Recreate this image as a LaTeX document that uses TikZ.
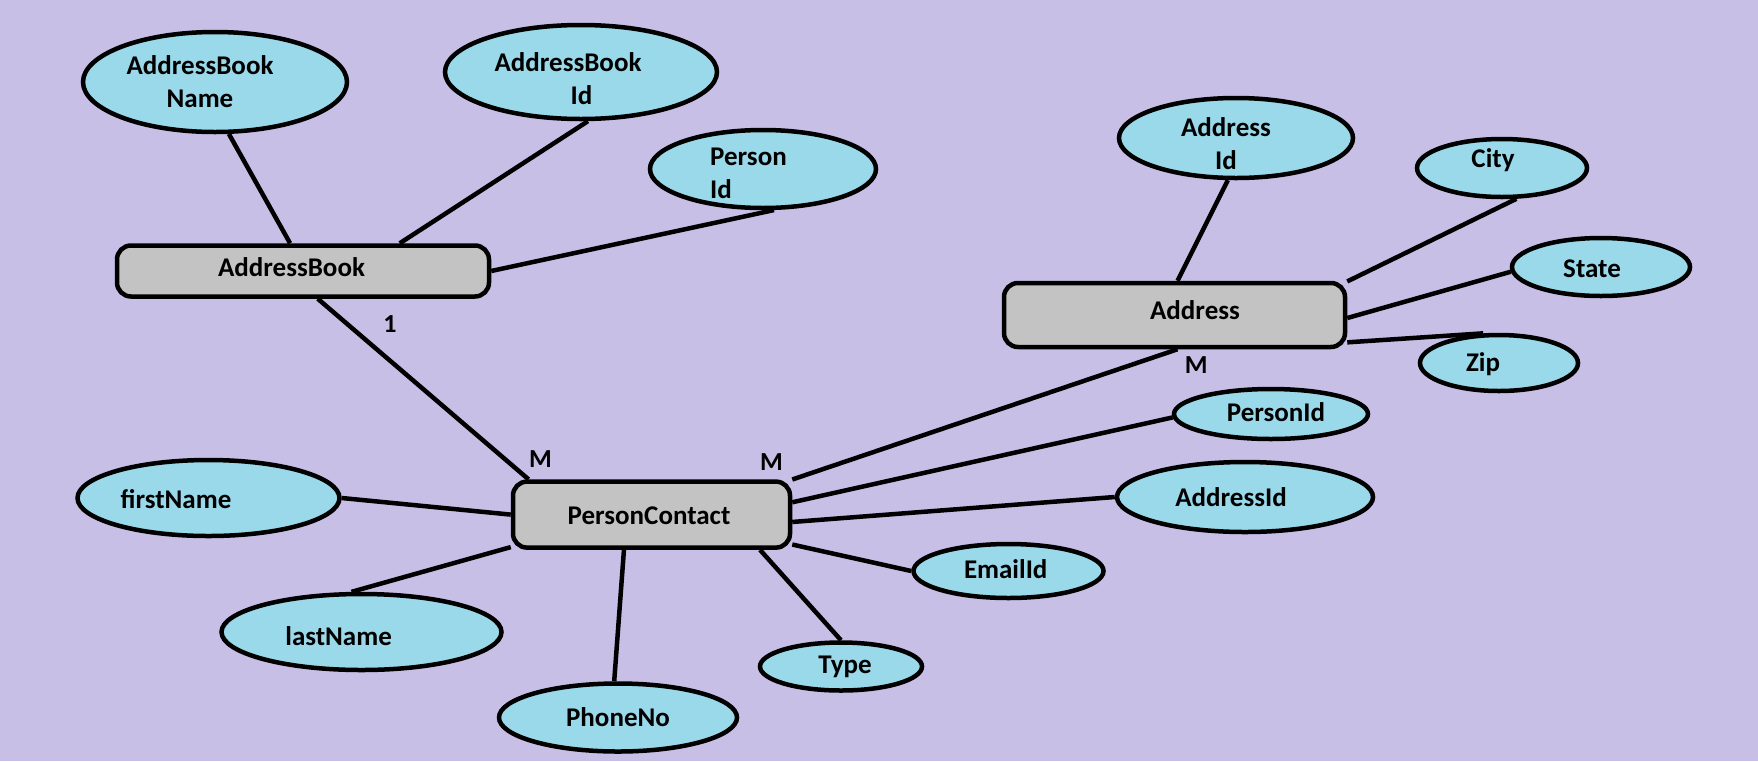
\documentclass[tikz,border=0pt]{standalone}
\usepackage{fontspec}
\setmainfont{Carlito}
\usetikzlibrary{shapes.geometric}
\definecolor{bgc}{RGB}{200,191,231}
\definecolor{attrc}{RGB}{153,217,234}
\definecolor{entc}{RGB}{195,195,195}
\tikzset{
 attrib/.style={ellipse, draw=black, line width=4.5pt, fill=attrc, inner sep=0pt},
 entity/.style={rectangle, rounded corners=14pt, draw=black, line width=4.5pt, fill=entc, inner sep=0pt},
 lbl/.style={font=\fontsize{27}{33}\selectfont\bfseries, inner sep=0pt, align=center},
 card/.style={font=\fontsize{26}{30}\selectfont\bfseries, inner sep=0pt},
 conn/.style={line width=4.5pt}
}
\begin{document}
\begin{tikzpicture}[x=1pt,y=-1pt]
\fill[bgc] (0,0) rectangle (1758,761);
\useasboundingbox (0,0) rectangle (1758,761);

% entities
\node[entity, minimum width=372pt, minimum height=51pt] (ab) at (303,271) {};
\node[entity, minimum width=341pt, minimum height=64pt] (ad) at (1174.5,315) {};
\node[entity, minimum width=277pt, minimum height=66pt] (pc) at (651.5,514.6) {};

% attributes
\node[attrib, minimum width=264pt, minimum height=100pt] (abn) at (215,82) {};
\node[attrib, minimum width=272pt, minimum height=94pt] (abi) at (581,72) {};
\node[attrib, minimum width=226pt, minimum height=78pt] (pid) at (763,169) {};
\node[attrib, minimum width=234pt, minimum height=80pt] (adi) at (1236,138) {};
\node[attrib, minimum width=170pt, minimum height=58pt] (city) at (1502,168) {};
\node[attrib, minimum width=178pt, minimum height=58pt] (state) at (1601,267) {};
\node[attrib, minimum width=158pt, minimum height=56pt] (zip) at (1499,363) {};
\node[attrib, minimum width=194pt, minimum height=50pt] (persid) at (1271,414) {};
\node[attrib, minimum width=256pt, minimum height=70pt] (addrid) at (1245,497) {};
\node[attrib, minimum width=190pt, minimum height=54pt] (email) at (1008.5,571) {};
\node[attrib, minimum width=162pt, minimum height=48pt] (type) at (841,666.5) {};
\node[attrib, minimum width=238pt, minimum height=68pt] (phone) at (618,717.5) {};
\node[attrib, minimum width=280pt, minimum height=76pt] (ln) at (361.5,632) {};
\node[attrib, minimum width=262pt, minimum height=76pt] (fn) at (208.5,498) {};

% connectors
\draw[conn] (abn.-75) -- (ab.115);
\draw[conn] (abi.-82) -- (ab.16.5);
\draw[conn] (pid.-75) -- (ab.east);
\draw[conn] (ab.-62) -- (pc.164);
\draw[conn] (adi.-101) -- (ad.85);
\draw[conn] (city.-65) -- (ad.11);
\draw[conn] (state.183) -- (ad.-1);
\draw[conn] (zip.118) -- (ad.-9);
\draw[conn] (ad.-85) -- (pc.14);
\draw[conn] (persid.182) -- (pc.5);
\draw[conn] (addrid.west) -- (pc.-3);
\draw[conn] (email.west) -- (pc.-12);
\draw[conn] (type.north) -- (pc.-18);
\draw[conn] (phone.96) -- (pc.-128);
\draw[conn] (ln.104) -- (pc.193);
\draw[conn] (fn.east) -- (pc.west);

% texts
\node[lbl] (t-ab) at (291.5,266.8) {AddressBook};
\node[lbl] (t-ad) at (1195,310.6) {Address};
\node[lbl] (t-pc) at (649,515.7) {PersonContact};
\node[lbl] (t-abn) at (200,82) {AddressBook\\Name};
\node[lbl] (t-abi) at (568,78.5) {AddressBook\\\hspace*{27pt}Id};
\node[lbl, align=left, anchor=west] (t-pid) at (710,173) {Person\\Id};
\node[lbl] (t-adi) at (1226,143.5) {Address\\Id};
\node[lbl] (t-city) at (1493,160) {City};
\node[lbl] (t-state) at (1592,269) {State};
\node[lbl] (t-zip) at (1483,364) {Zip};
\node[lbl] (t-persid) at (1276,412.6) {PersonId};
\node[lbl] (t-addrid) at (1231,496.7) {AddressId};
\node[lbl] (t-email) at (1005.7,569.6) {EmailId};
\node[lbl] (t-type) at (845,667) {Type};
\node[lbl] (t-phone) at (618,717.6) {PhoneNo};
\node[lbl] (t-ln) at (338.6,635.7) {lastName};
\node[lbl] (t-fn) at (176,499) {firstName};

% cardinalities
\node[card] (c1) at (390,324) {1};
\node[card] (cm1) at (540.4,458.6) {M};
\node[card] (cm2) at (771.4,462) {M};
\node[card] (cm3) at (1196.3,365.5) {M};
\end{tikzpicture}
\end{document}
